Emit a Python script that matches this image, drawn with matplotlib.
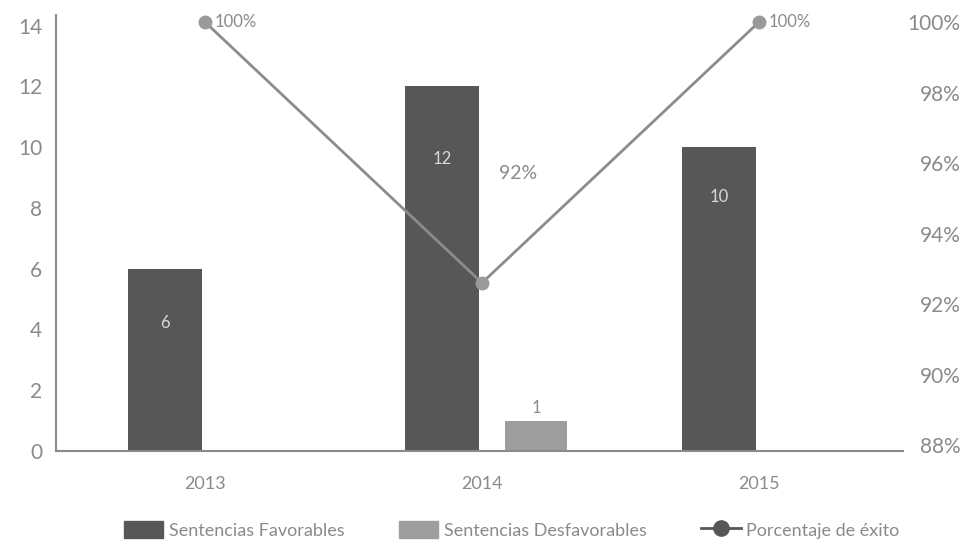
import matplotlib
matplotlib.use("Agg")
import matplotlib.pyplot as plt
from matplotlib.patches import Patch
from matplotlib.lines import Line2D
import numpy as np

years = ["2013", "2014", "2015"]
favorables = [6, 12, 10]
desfavorables = [0, 1, 0]
exito = [1.00, 0.926, 1.00]
exito_labels = ["100%", "92%", "100%"]
left_ticks = [0, 2, 4, 6, 8, 10, 12, 14]
right_ticks = [0.88, 0.90, 0.92, 0.94, 0.96, 0.98, 1.00]

plt.rcParams['font.family'] = ['Lato', 'DejaVu Sans']
TXT = "#8a8a8a"
DARK = "#575757"
LIGHT = "#9e9e9e"
LINE = "#8c8c8c"

fig = plt.figure(figsize=(9.78, 5.44), dpi=100)
ax = fig.add_axes([56/978, 1-451/544, (903-56)/978, (451-15)/544])
ax2 = ax.twinx()

x = np.arange(len(years))
w1, w2 = 0.267, 0.224
off1, off2 = -0.144, 0.195
ax.bar(x + off1, favorables, w1, color=DARK, zorder=2)
ax.bar(x + off2, desfavorables, w2, color=LIGHT, zorder=2)

ax.set_xlim(-0.538, 2.52)
ax.set_ylim(0, 14.35)
ax.set_yticks(left_ticks)
ax.set_yticklabels([str(t) for t in left_ticks])
ax.set_xticks(x)
ax.set_xticklabels(years)
ax.tick_params(axis='y', length=0, pad=10, labelsize=15, labelcolor=TXT)
ax.tick_params(axis='x', length=0, pad=18, labelsize=13, labelcolor=TXT)
for s in ["top", "right"]:
    ax.spines[s].set_visible(False)
for s in ["left", "bottom"]:
    ax.spines[s].set_color("#8a8a8a")
    ax.spines[s].set_linewidth(1.5)

# bar labels
fav_offsets = [-39, -52, -36]
for xi, v, o in zip(x, favorables, fav_offsets):
    ax.annotate(str(v), (xi + off1, v), xytext=(0, o), textcoords="offset points",
                ha="center", va="center", color="#d9d9d9", fontsize=12)
for xi, v in zip(x, desfavorables):
    if v > 0:
        ax.annotate(str(v), (xi + off2, v), xytext=(0, 9), textcoords="offset points",
                    ha="center", va="center", color=TXT, fontsize=12)

ax2.plot(x, exito, color=LINE, lw=2, marker="o", ms=9, mfc="#9a9a9a", mec="#9a9a9a", zorder=3)
ax2.set_ylim(0.8783, 1.002)
ax2.set_yticks(right_ticks)
ax2.set_yticklabels([f"{int(round(t*100))}%" for t in right_ticks])
ax2.tick_params(axis='y', length=0, pad=41.5, labelsize=15, labelcolor=TXT)
for lab in ax2.get_yticklabels():
    lab.set_horizontalalignment("right")
for s in ["top", "right", "left", "bottom"]:
    ax2.spines[s].set_visible(False)

lab_offsets = [(7, 0), (12, 79), (7, 0)]
lab_sizes = [12, 14, 12]
for xi, v, t, o, fs in zip(x, exito, exito_labels, lab_offsets, lab_sizes):
    ax2.annotate(t, (xi, v), xytext=o, textcoords="offset points",
                 ha="left", va="center", color=TXT, fontsize=fs)

handles = [Patch(color=DARK), Patch(color=LIGHT),
           Line2D([0], [0], color=DARK, lw=2, marker="o", ms=11)]
labels = ["Sentencias Favorables", "Sentencias Desfavorables", "Porcentaje de éxito"]
fig.legend(handles, labels, loc="center", bbox_to_anchor=(0.523, 0.026), ncol=3,
           frameon=False, fontsize=13, labelcolor=TXT, handlelength=2.2,
           handleheight=1.1, handletextpad=0.3, columnspacing=3.0)

fig.savefig("out.png", dpi=100)
